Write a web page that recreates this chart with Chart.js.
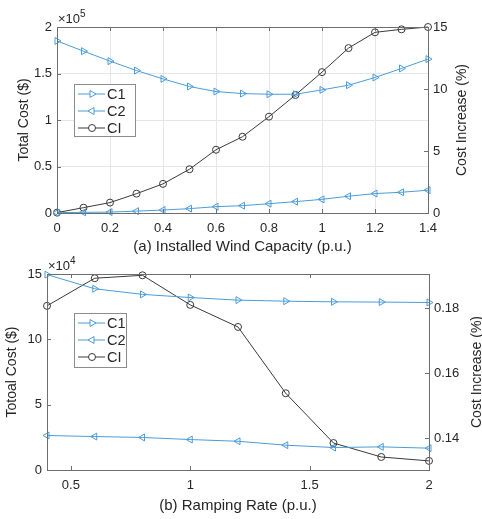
<!DOCTYPE html>
<html>
<head>
<meta charset="utf-8">
<script src="https://cdn.jsdelivr.net/npm/chart.js@4.4.1/dist/chart.umd.min.js"></script>
<style>
  html, body { margin: 0; padding: 0; background: #fff; overflow: hidden; }
  body { width: 482px; height: 519px; position: relative; }
  .panel { position: absolute; left: 0; }
  #panel-a { top: 0; width: 482px; height: 260px; }
  #panel-b { top: 250px; width: 489px; height: 269px; }
</style>
</head>
<body>
<div class="panel" id="panel-a"><canvas id="grafico-a"></canvas></div>
<div class="panel" id="panel-b"><canvas id="grafico-b"></canvas></div>
<script>
// (a) installed wind capacity
const capacidade = [0, 0.1, 0.2, 0.3, 0.4, 0.5, 0.6, 0.7, 0.8, 0.9, 1.0, 1.1, 1.2, 1.3, 1.4];
const c1_a = [185000, 174000, 163300, 153200, 144200, 136000, 130600, 128400, 127700, 127700, 132400, 137400, 145700, 155400, 165500];
const c2_a = [400, 700, 1000, 2000, 3200, 4700, 6800, 7900, 10000, 12200, 14700, 18000, 20900, 22300, 24500];
const ci_a = [0.03, 0.43, 0.84, 1.56, 2.35, 3.53, 5.1, 6.15, 7.77, 9.52, 11.36, 13.3, 14.57, 14.81, 15.0];
const ticks_x_a = [0, 0.2, 0.4, 0.6, 0.8, 1.0, 1.2, 1.4];
const ticks_y_a = [0, 50000, 100000, 150000, 200000];
const ticks_y1_a = [0, 5, 10, 15];

// (b) ramping rate
const rampa = [0.4, 0.6, 0.8, 1.0, 1.2, 1.4, 1.6, 1.8, 2.0];
const c1_b = [149500, 138700, 134400, 132000, 130000, 129200, 128700, 128500, 128200];
const c2_b = [26400, 25600, 24900, 23300, 22000, 19000, 17200, 17700, 16700];
const ci_b = [0.1807, 0.1892, 0.1901, 0.181, 0.1742, 0.1538, 0.1385, 0.1342, 0.133];
const ticks_x_b = [0.5, 1.0, 1.5, 2.0];
const ticks_y_b = [0, 50000, 100000, 150000];
const ticks_y1_b = [0.14, 0.16, 0.18];

const AZUL = '#4b9cd8';
const CINZA = '#3a3a3a';
const EIXO = '#6e6e6e';
const TEXTO = '#262626';
const FONTE = '"Liberation Sans", Arial, sans-serif';

function pares(xs, ys) {
    return xs.map((x, i) => ({ x: x, y: ys[i] }));
}

function fmt(v) {
    return String(Math.round(v * 1000) / 1000);
}

function serie(label, xs, ys, eixo, cor, estilo, rot, raio) {
    return {
        label: label,
        data: pares(xs, ys),
        yAxisID: eixo,
        borderColor: cor,
        borderWidth: 1,
        backgroundColor: 'transparent',
        pointStyle: estilo,
        rotation: rot,
        pointRadius: raio,
        pointHoverRadius: raio,
        pointBorderWidth: 1,
        pointBackgroundColor: 'transparent',
        tension: 0,
        clip: false
    };
}

// box, inward ticks, exponent, right title and legend
const moldura = {
    id: 'moldura',
    afterDatasetsDraw(chart, args, opts) {
        const ctx = chart.ctx;
        const a = chart.chartArea;
        ctx.save();
        ctx.strokeStyle = EIXO;
        ctx.lineWidth = 1;
        ctx.strokeRect(Math.round(a.left) + 0.5, Math.round(a.top) + 0.5,
                       Math.round(a.right - a.left), Math.round(a.bottom - a.top));

        const tam = 4;
        ctx.beginPath();
        chart.scales.x.ticks.forEach(t => {
            const px = Math.round(chart.scales.x.getPixelForValue(t.value)) + 0.5;
            ctx.moveTo(px, a.bottom); ctx.lineTo(px, a.bottom - tam);
            ctx.moveTo(px, a.top); ctx.lineTo(px, a.top + tam);
        });
        chart.scales.y.ticks.forEach(t => {
            const py = Math.round(chart.scales.y.getPixelForValue(t.value)) + 0.5;
            ctx.moveTo(a.left, py); ctx.lineTo(a.left + tam, py);
        });
        chart.scales.y1.ticks.forEach(t => {
            const py = Math.round(chart.scales.y1.getPixelForValue(t.value)) + 0.5;
            ctx.moveTo(a.right, py); ctx.lineTo(a.right - tam, py);
        });
        ctx.stroke();

        // multiplier above the left axis
        ctx.fillStyle = TEXTO;
        ctx.textBaseline = 'alphabetic';
        ctx.textAlign = 'left';
        ctx.font = '13px ' + FONTE;
        const ex = a.left + 1, ey = a.top - 4;
        ctx.fillText('\u00d710', ex, ey);
        const w = ctx.measureText('\u00d710').width;
        ctx.font = '10px ' + FONTE;
        ctx.fillText(opts.expoente, ex + w, ey - 6);

        // right axis title, read bottom to top
        ctx.save();
        ctx.translate(opts.tituloDirX, (a.top + a.bottom) / 2);
        ctx.rotate(-Math.PI / 2);
        ctx.textAlign = 'center';
        ctx.textBaseline = 'middle';
        ctx.font = '14px ' + FONTE;
        ctx.fillText('Cost Increase (%)', 0, 0);
        ctx.restore();

        // legend
        const L = opts.legenda;
        ctx.fillStyle = '#fff';
        ctx.fillRect(L.x, L.y, L.w, L.h);
        ctx.strokeStyle = '#8c8c8c';
        ctx.strokeRect(L.x + 0.5, L.y + 0.5, L.w, L.h);
        chart.data.datasets.forEach((ds, i) => {
            const yy = L.y + L.linha0 + i * L.passo;
            ctx.strokeStyle = ds.borderColor;
            ctx.lineWidth = 1;
            ctx.beginPath();
            ctx.moveTo(L.x + 4, yy); ctx.lineTo(L.x + 31, yy);
            ctx.stroke();
            ctx.fillStyle = '#ffffff';
            Chart.helpers.drawPoint(ctx, {
                pointStyle: ds.pointStyle,
                rotation: ds.rotation,
                radius: ds.pointRadius,
                borderWidth: 1
            }, L.x + 18, yy);
            ctx.fillStyle = TEXTO;
            ctx.font = '14.5px ' + FONTE;
            ctx.textBaseline = 'middle';
            ctx.textAlign = 'left';
            ctx.fillText(ds.label, L.x + 33, yy + 1);
        });
        ctx.restore();
    }
};

function montar(canvas, cfg) {
    return new Chart(canvas, {
        type: 'line',
        data: { datasets: cfg.series },
        plugins: [moldura],
        options: {
            responsive: true,
            maintainAspectRatio: false,
            animation: false,
            layout: { padding: cfg.padding },
            plugins: {
                legend: { display: false },
                tooltip: { enabled: false },
                moldura: { expoente: cfg.expoente, legenda: cfg.legenda, tituloDirX: cfg.tituloDirX }
            },
            scales: {
                x: {
                    type: 'linear',
                    min: cfg.xmin, max: cfg.xmax,
                    afterBuildTicks: s => { s.ticks = cfg.ticksX.map(v => ({ value: v })); },
                    afterFit: s => { s.height = cfg.alturaX; },
                    grid: { display: cfg.grade, color: '#e6e6e6', drawTicks: false },
                    border: { display: false },
                    ticks: { padding: 8, color: TEXTO, font: { family: FONTE, size: 13 }, callback: v => fmt(v) },
                    title: { display: true, text: cfg.tituloX, color: TEXTO, font: { family: FONTE, size: 15 } }
                },
                y: {
                    position: 'left',
                    min: cfg.ymin, max: cfg.ymax,
                    afterBuildTicks: s => { s.ticks = cfg.ticksY.map(v => ({ value: v })); },
                    afterFit: s => { s.width = cfg.larguraY; },
                    grid: { display: cfg.grade, color: '#e6e6e6', drawTicks: false },
                    border: { display: false },
                    ticks: { padding: 5, color: TEXTO, font: { family: FONTE, size: 13 }, callback: v => fmt(v / cfg.escala) },
                    title: { display: true, text: cfg.tituloY, color: TEXTO, font: { family: FONTE, size: 14 } }
                },
                y1: {
                    position: 'right',
                    min: cfg.y1min, max: cfg.y1max,
                    afterBuildTicks: s => { s.ticks = cfg.ticksY1.map(v => ({ value: v })); },
                    afterFit: s => { s.width = cfg.larguraY1; },
                    grid: { display: false, drawTicks: false },
                    border: { display: false },
                    ticks: { padding: 5, color: TEXTO, font: { family: FONTE, size: 13 }, callback: v => fmt(v) },
                    title: { display: false }
                }
            }
        }
    });
}

montar(document.getElementById('grafico-a'), {
    series: [
        serie('C1', capacidade, c1_a, 'y', AZUL, 'triangle', 90, 4),
        serie('C2', capacidade, c2_a, 'y', AZUL, 'triangle', -90, 4),
        serie('CI', capacidade, ci_a, 'y1', CINZA, 'circle', 0, 3.5)
    ],
    padding: { top: 27, left: 12, right: 8, bottom: 0 },
    larguraY: 45, larguraY1: 46, alturaX: 47,
    xmin: 0, xmax: 1.4, ymin: 0, ymax: 200000, y1min: 0, y1max: 15,
    ticksX: ticks_x_a, ticksY: ticks_y_a, ticksY1: ticks_y1_a,
    escala: 100000, expoente: '5', grade: true, tituloDirX: 462,
    tituloX: '(a) Installed Wind Capacity (p.u.)',
    tituloY: 'Total Cost ($)',
    legenda: { x: 74, y: 84, w: 61, h: 52, linha0: 10, passo: 17 }
});

montar(document.getElementById('grafico-b'), {
    series: [
        serie('C1', rampa, c1_b, 'y', AZUL, 'triangle', 90, 4),
        serie('C2', rampa, c2_b, 'y', AZUL, 'triangle', -90, 4),
        serie('CI', rampa, ci_b, 'y1', CINZA, 'circle', 0, 3.5)
    ],
    padding: { top: 24, left: 0, right: 0, bottom: 0 },
    larguraY: 47, larguraY1: 60, alturaX: 49,
    xmin: 0.4, xmax: 2.0, ymin: 0, ymax: 150000, y1min: 0.1302, y1max: 0.1905,
    ticksX: ticks_x_b, ticksY: ticks_y_b, ticksY1: ticks_y1_b,
    escala: 10000, expoente: '4', grade: false, tituloDirX: 477,
    tituloX: '(b) Ramping Rate (p.u.)',
    tituloY: 'Totoal Cost ($)',
    legenda: { x: 74, y: 63, w: 52, h: 54, linha0: 10, passo: 17 }
});
</script>
</body>
</html>
